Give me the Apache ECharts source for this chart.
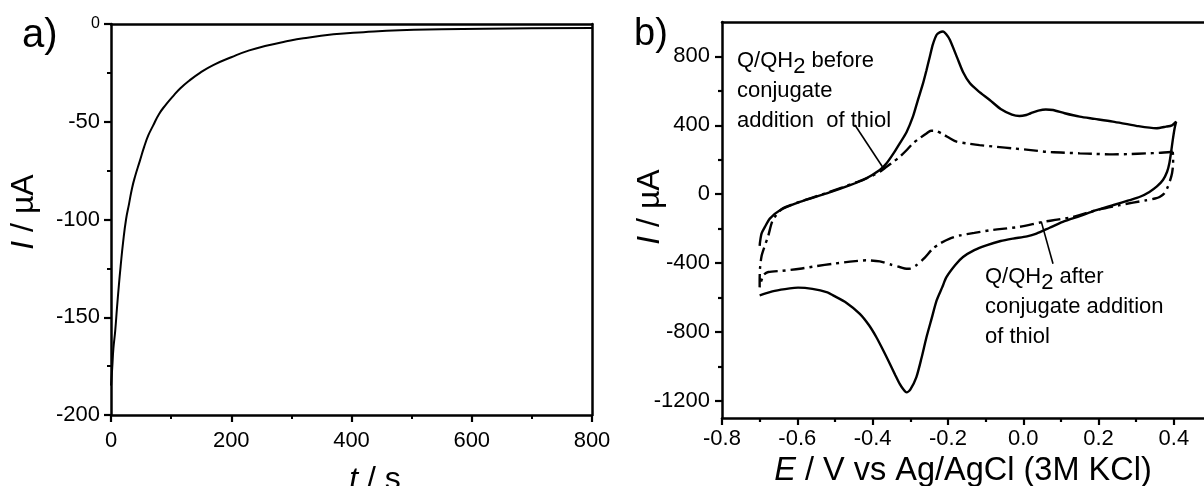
<!DOCTYPE html>
<html><head><meta charset="utf-8">
<script src="https://cdn.jsdelivr.net/npm/echarts@6/dist/echarts.min.js"></script>
<style>html,body{margin:0;padding:0;background:#fff}#c{width:1204px;height:486px}</style>
</head><body><div id="c"></div>
<script>
const FONT = 'Arial, "Liberation Sans", sans-serif';

// ---- Panel a: chronoamperometry ----
const timeS = [0, 2, 4, 7, 10, 13, 16, 20, 25, 30, 35, 40, 48, 55, 62, 70, 80, 92, 103, 115, 130, 148, 170, 200, 230, 260, 290, 320, 370, 420, 480, 550, 620, 700, 800];
const currentA = [-185, -176, -166, -157, -145, -134, -124, -112, -100, -92, -84, -78, -70, -63, -57, -52, -46, -41, -37, -33, -29, -25, -21, -17, -13.5, -11, -9, -7.3, -5.3, -4.2, -3.2, -2.7, -2.4, -2.2, -2.1];
const aXTicks = [0, 200, 400, 600, 800];
const aYTicks = [-200, -150, -100, -50, 0];

// ---- Panel b: cyclic voltammograms ----
const beforeE = [-0.700, -0.66, -0.62, -0.598, -0.56, -0.52, -0.505, -0.47, -0.434, -0.41, -0.39, -0.37, -0.354, -0.34, -0.328, -0.318, -0.310, -0.300, -0.284, -0.27, -0.257, -0.243, -0.230, -0.215, -0.204, -0.18, -0.160, -0.13, -0.098, -0.06, -0.027, 0.010, 0.035, 0.07, 0.105, 0.15, 0.194, 0.24, 0.282, 0.31, 0.335, 0.355, 0.371, 0.382, 0.388, 0.393, 0.397, 0.402, 0.406,
  0.395, 0.379, 0.353, 0.30, 0.238, 0.19, 0.150, 0.11, 0.079, 0.060, 0.040, 0.020, 0.008, -0.010, -0.030, -0.06, -0.089, -0.12, -0.142, -0.160, -0.175, -0.195, -0.205, -0.213, -0.222, -0.230, -0.240, -0.248, -0.257, -0.266, -0.280, -0.293, -0.310, -0.328, -0.345, -0.363, -0.381, -0.420, -0.460, -0.522, -0.593, -0.646, -0.673, -0.686, -0.695, -0.699, -0.700];
const beforeI = [-588, -562, -547, -543, -550, -570, -588, -630, -695, -760, -831, -915, -986, -1050, -1102, -1135, -1151, -1135, -1064, -950, -831, -720, -617, -540, -482, -410, -365, -325, -297, -272, -258, -245, -229, -195, -161, -127, -93, -63, -35, -15, 13, 45, 82, 130, 179, 250, 314, 383, 421,
  400, 392, 383, 397, 421, 437, 450, 470, 489, 492, 485, 470, 460, 454, 462, 495, 547, 600, 645, 710, 790, 897, 930, 945, 940, 926, 870, 800, 720, 645, 545, 450, 360, 295, 235, 179, 140, 88, 52, 4, -45, -93, -142, -190, -229, -278, -300];

const afterE = [0.397, 0.36, 0.327, 0.28, 0.238, 0.19, 0.150, 0.10, 0.061, 0.02, -0.027, -0.07, -0.116, -0.150, -0.177, -0.195, -0.215, -0.235, -0.245, -0.257, -0.275, -0.293, -0.31, -0.328, -0.345, -0.363, -0.381, -0.40, -0.44, -0.48, -0.53, -0.59, -0.64, -0.665, -0.677, -0.688, -0.695, -0.699, -0.700, -0.700,
  -0.690, -0.677, -0.64, -0.593, -0.55, -0.505, -0.46, -0.416, -0.381, -0.35, -0.328, -0.310, -0.300, -0.284, -0.262, -0.240, -0.22, -0.195, -0.169, -0.130, -0.089, -0.050, -0.010, 0.052, 0.090, 0.132, 0.194, 0.256, 0.327, 0.350, 0.362, 0.375, 0.384, 0.390, 0.395, 0.398, 0.398, 0.397];
const afterI = [246, 240, 237, 233, 231, 234, 237, 242, 246, 256, 266, 275, 285, 295, 305, 325, 350, 368, 368, 353, 325, 295, 255, 217, 188, 159, 130, 108, 72, 40, 2, -42, -85, -150, -240, -310, -360, -430, -500, -540,
  -470, -452, -445, -433, -418, -404, -392, -384, -390, -410, -423, -433, -432, -413, -370, -316, -285, -258, -240, -225, -210, -200, -190, -161, -148, -132, -93, -64, -35, -25, -16, 5, 43, 80, 120, 180, 217, 246];

const leaderBeforeE = [-0.447, -0.374];
const leaderBeforeI = [402, 159];
const leaderAfterE = [0.048, 0.079];
const leaderAfterI = [-161, -404];

const bXTicks = [-0.8, -0.6, -0.4, -0.2, 0.0, 0.2, 0.4];
const bXMinor = [-0.7, -0.5, -0.3, -0.1, 0.1, 0.3];
const bYTicks = [-1200, -800, -400, 0, 400, 800];
const bYMinor = [-1000, -600, -200, 200, 600];

const zip = (xs, ys) => xs.map((x, i) => [x, ys[i]]);

const AX = { onZero: false, lineStyle: { color: '#000', width: 2.5 } };
const NOAX = { show: false, onZero: false };
const TICK = { show: true, inside: false, length: 7, lineStyle: { color: '#000', width: 2.2 } };
const MINOR = { show: true, splitNumber: 2, length: 4, lineStyle: { color: '#000', width: 2 } };
const LBL = { color: '#000', fontSize: 22, fontFamily: FONT };

const chart = echarts.init(document.getElementById('c'), null, { renderer: 'canvas' });
chart.setOption({
  backgroundColor: '#fff',
  animation: false,
  grid: [
    { left: 111, top: 24, right: 612, bottom: 71 },
    { left: 722, top: 22, right: 0, bottom: 68 }
  ],
  xAxis: [
    { gridIndex: 0, type: 'value', position: 'bottom', min: aXTicks[0], max: aXTicks[aXTicks.length - 1], interval: 200,
      axisLine: AX, axisTick: TICK, minorTick: MINOR, splitLine: { show: false },
      axisLabel: Object.assign({ margin: 15 }, LBL) },
    { gridIndex: 0, type: 'value', position: 'top', min: 0, max: 800,
      axisLine: AX, axisTick: { show: false }, axisLabel: { show: false }, splitLine: { show: false } },
    { gridIndex: 1, type: 'value', position: 'bottom', min: -0.8, max: 0.48,
      axisLine: AX, splitLine: { show: false },
      axisTick: Object.assign({ customValues: bXTicks }, TICK),
      axisLabel: Object.assign({ margin: 10, customValues: bXTicks, formatter: v => v.toFixed(1) }, LBL) },
    { gridIndex: 1, type: 'value', position: 'bottom', min: -0.8, max: 0.48,
      axisLine: NOAX, splitLine: { show: false }, axisLabel: { show: false },
      axisTick: Object.assign({}, TICK, { length: 4, customValues: bXMinor }) },
    { gridIndex: 1, type: 'value', position: 'top', min: -0.8, max: 0.48,
      axisLine: AX, axisTick: { show: false }, axisLabel: { show: false }, splitLine: { show: false } }
  ],
  yAxis: [
    { gridIndex: 0, type: 'value', position: 'left', min: aYTicks[0], max: aYTicks[aYTicks.length - 1], interval: 50,
      axisLine: AX, axisTick: TICK, minorTick: MINOR, splitLine: { show: false },
      axisLabel: Object.assign({ margin: 11,
        formatter: v => v === 0 ? '{s|0}' : String(v),
        rich: { s: { fontSize: 16, fontFamily: FONT, color: '#000' } } }, LBL) },
    { gridIndex: 0, type: 'value', position: 'right', min: -200, max: 0,
      axisLine: AX, axisTick: { show: false }, axisLabel: { show: false }, splitLine: { show: false } },
    { gridIndex: 1, type: 'value', position: 'left', min: -1300, max: 1000,
      axisLine: AX, splitLine: { show: false },
      axisTick: Object.assign({ customValues: bYTicks }, TICK),
      axisLabel: Object.assign({ margin: 12, customValues: bYTicks, formatter: v => String(v) }, LBL) },
    { gridIndex: 1, type: 'value', position: 'left', min: -1300, max: 1000,
      axisLine: NOAX, splitLine: { show: false }, axisLabel: { show: false },
      axisTick: Object.assign({}, TICK, { length: 4, customValues: bYMinor }) }
  ],
  series: [
    { type: 'line', xAxisIndex: 0, yAxisIndex: 0, data: zip(timeS, currentA), smooth: true,
      showSymbol: false, lineStyle: { color: '#000', width: 2 } },
    { type: 'line', xAxisIndex: 2, yAxisIndex: 2, data: zip(beforeE, beforeI), smooth: 0.25,
      showSymbol: false, lineStyle: { color: '#000', width: 2.4 } },
    { type: 'line', xAxisIndex: 2, yAxisIndex: 2, data: zip(afterE, afterI), smooth: 0.25,
      showSymbol: false, lineStyle: { color: '#000', width: 2.4, type: [14, 5, 3, 5] } },
    { type: 'line', xAxisIndex: 2, yAxisIndex: 2, data: zip(leaderBeforeE, leaderBeforeI),
      showSymbol: false, lineStyle: { color: '#000', width: 1.6 } },
    { type: 'line', xAxisIndex: 2, yAxisIndex: 2, data: zip(leaderAfterE, leaderAfterI),
      showSymbol: false, lineStyle: { color: '#000', width: 1.6 } }
  ],
  graphic: [
    { type: 'text', x: 22, y: 36, style: { text: 'a)', fontSize: 40, fontFamily: FONT, fill: '#000', align: 'left', verticalAlign: 'middle' } },
    { type: 'text', x: 634, y: 35, style: { text: 'b)', fontSize: 38, fontFamily: FONT, fill: '#000', align: 'left', verticalAlign: 'middle' } },
    { type: 'text', x: 24, y: 212, rotation: Math.PI / 2,
      style: { text: '{i|I} / µA', fontSize: 32, fontFamily: FONT, fill: '#000', align: 'center', verticalAlign: 'middle',
        rich: { i: { fontStyle: 'italic', fontSize: 32, fontFamily: FONT } } } },
    { type: 'text', x: 650, y: 207, rotation: Math.PI / 2,
      style: { text: '{i|I} / µA', fontSize: 32, fontFamily: FONT, fill: '#000', align: 'center', verticalAlign: 'middle',
        rich: { i: { fontStyle: 'italic', fontSize: 32, fontFamily: FONT } } } },
    { type: 'text', x: 375, y: 480,
      style: { text: '{i|t} / s', fontSize: 32, fontFamily: FONT, fill: '#000', align: 'center', verticalAlign: 'middle',
        rich: { i: { fontStyle: 'italic', fontSize: 32, fontFamily: FONT } } } },
    { type: 'text', x: 963, y: 471,
      style: { text: '{i|E} / V vs Ag/AgCl (3M KCl)', fontSize: 32.5, fontFamily: FONT, fill: '#000', align: 'center', verticalAlign: 'middle',
        rich: { i: { fontStyle: 'italic', fontSize: 32.5, fontFamily: FONT } } } },
    { type: 'text', x: 737, y: 46,
      style: { text: '{n|Q/QH}{sub|2}{n| before}\n{n|conjugate}\n{n|addition  of thiol}', fill: '#000', align: 'left', verticalAlign: 'top',
        rich: { n: { fontSize: 22, fontFamily: FONT, lineHeight: 30 }, sub: { fontSize: 22, fontFamily: FONT, lineHeight: 30, padding: [12, 0, 0, 0] } } } },
    { type: 'text', x: 985, y: 262,
      style: { text: '{n|Q/QH}{sub|2}{n| after}\n{n|conjugate addition}\n{n|of thiol}', fill: '#000', align: 'left', verticalAlign: 'top',
        rich: { n: { fontSize: 22, fontFamily: FONT, lineHeight: 30 }, sub: { fontSize: 22, fontFamily: FONT, lineHeight: 30, padding: [12, 0, 0, 0] } } } }
  ]
});
</script></body></html>
